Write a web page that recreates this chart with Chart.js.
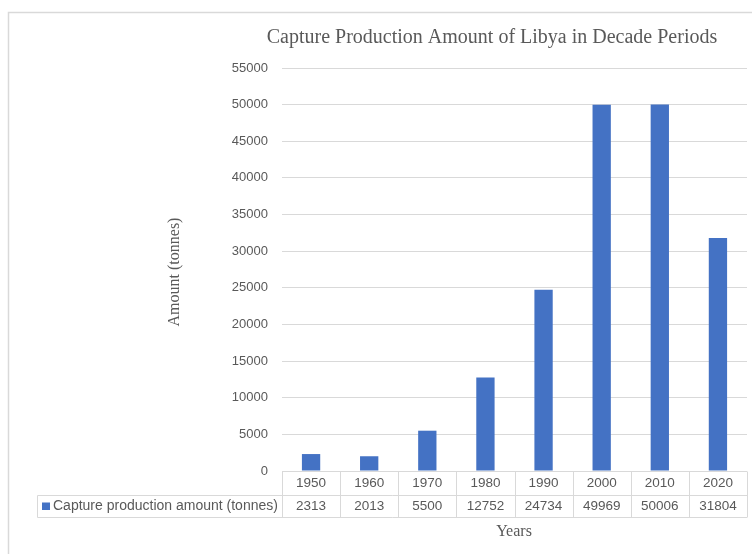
<!DOCTYPE html>
<html>
<head>
<meta charset="utf-8">
<script src="https://cdn.jsdelivr.net/npm/chart.js@4.4.1/dist/chart.umd.min.js"></script>
<style>
  html, body { margin: 0; padding: 0; background: #fff; }
  #wrap { width: 752px; height: 554px; position: relative; }
</style>
</head>
<body>
<div id="wrap"><canvas id="chart" width="752" height="554"></canvas></div>
<script>
// chart data
const years   = ['1950', '1960', '1970', '1980', '1990', '2000', '2010', '2020'];
const amounts = [2313, 2013, 5500, 12752, 24734, 49969, 50006, 31804];
const seriesName = 'Capture production amount (tonnes)';
const chartTitle = 'Capture Production Amount of Libya in Decade Periods';
const yTitle = 'Amount (tonnes)';
const xTitle = 'Years';
const yMax = 55000, yStep = 5000;

const textColor = '#595959';
const lineColor = '#d9d9d9';
const barColor  = '#4472C4';

// draws frame, titles and the data table under the plot
const decorations = {
  id: 'decorations',
  afterDraw(chart) {
    const ctx = chart.ctx;
    const area = chart.chartArea;
    const x = chart.scales.x;
    ctx.save();

    // outer frame (left and top edges visible)
    ctx.strokeStyle = lineColor;
    ctx.lineWidth = 1.5;
    ctx.beginPath();
    ctx.moveTo(8.5, 554);
    ctx.lineTo(8.5, 12.5);
    ctx.lineTo(752, 12.5);
    ctx.stroke();

    // chart title
    ctx.fillStyle = textColor;
    ctx.font = '20px "Liberation Serif"';
    ctx.textAlign = 'center';
    ctx.textBaseline = 'middle';
    ctx.fillText(chartTitle, 492, 38);

    // y axis title
    ctx.save();
    ctx.translate(175, 272);
    ctx.rotate(-Math.PI / 2);
    ctx.font = '16px "Liberation Serif"';
    ctx.fillText(yTitle, 0, 0);
    ctx.restore();

    // x axis title
    ctx.font = '16px "Liberation Serif"';
    ctx.fillText(xTitle, 514, 532);

    // data table
    const top = area.bottom + 0.5, mid = 495.5, bot = 517.5, legLeft = 37.5;
    const half = (x.getPixelForValue(1) - x.getPixelForValue(0)) / 2;
    const left = x.getPixelForValue(0) - half;
    const right = x.getPixelForValue(years.length - 1) + half;

    ctx.strokeStyle = lineColor;
    ctx.lineWidth = 1;
    ctx.beginPath();
    ctx.moveTo(left, top); ctx.lineTo(right, top);
    ctx.moveTo(legLeft, mid); ctx.lineTo(right, mid);
    ctx.moveTo(legLeft, bot); ctx.lineTo(right, bot);
    ctx.moveTo(legLeft, mid); ctx.lineTo(legLeft, bot);
    for (let i = 0; i <= years.length; i++) {
      const px = Math.round(left + i * half * 2) + 0.5;
      ctx.moveTo(px, top); ctx.lineTo(px, bot);
    }
    ctx.stroke();

    ctx.fillStyle = textColor;
    ctx.font = '13.5px "Liberation Sans"';
    ctx.textAlign = 'center';
    years.forEach((yr, i) => {
      const cx = x.getPixelForValue(i);
      ctx.fillText(yr, cx, 483.5);
      ctx.fillText(String(amounts[i]), cx, 506.5);
    });

    // legend key + series name
    ctx.fillStyle = barColor;
    ctx.fillRect(42, 502.5, 8, 7.5);
    ctx.fillStyle = textColor;
    ctx.font = '14px "Liberation Sans"';
    ctx.textAlign = 'left';
    ctx.fillText(seriesName, 53, 506.5);

    ctx.restore();
  }
};

new Chart(document.getElementById('chart').getContext('2d'), {
  type: 'bar',
  data: {
    labels: years,
    datasets: [{
      label: seriesName,
      data: amounts,
      backgroundColor: barColor,
      categoryPercentage: 1,
      barPercentage: 0.315
    }]
  },
  options: {
    responsive: false,
    animation: false,
    devicePixelRatio: 1,
    layout: { padding: { top: 68, right: 5, bottom: 83, left: 0 } },
    plugins: {
      legend: { display: false },
      title: { display: false },
      tooltip: { enabled: false }
    },
    scales: {
      x: { display: false },
      y: {
        min: 0,
        max: yMax,
        afterFit: s => { s.width = 282; },
        border: { display: false },
        grid: { color: lineColor, lineWidth: 1, drawTicks: false },
        ticks: {
          stepSize: yStep,
          padding: 14,
          color: textColor,
          font: { family: 'Liberation Sans', size: 13 },
          callback: v => String(v)
        }
      }
    }
  },
  plugins: [decorations]
});
</script>
</body>
</html>
